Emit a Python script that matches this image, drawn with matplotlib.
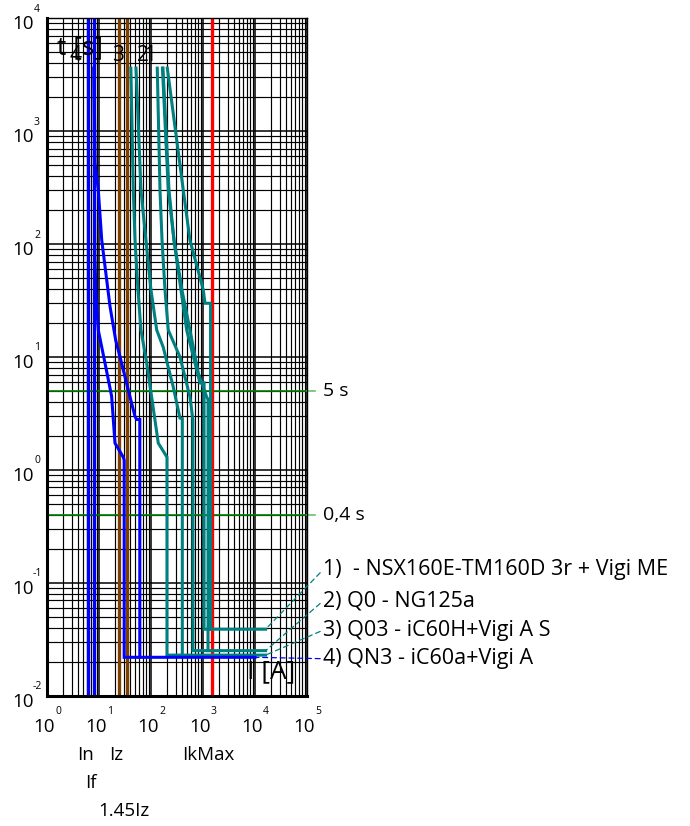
import matplotlib.pyplot as plt
import numpy as np
from matplotlib.ticker import LogLocator

plt.rcParams['font.family'] = ['Open Sans', 'DejaVu Sans']

# %% data

# marker currents [A]
marker_names = ['In', 'If', 'Iz', '1.45Iz', 'IkMax']
marker_vals = [6.2, 8.0, 24.0, 34.8, 1470.0]
marker_rows = [0, 1, 0, 2, 0]
marker_cols = ['#0000ff', '#0000ff', '#7f3f00', '#7f3f00', '#ff0000']

# time markers [s]
t_marks = [5.0, 0.4]
t_labels = ['5 s', '0,4 s']

# curve 4 - QN3 iC60a (blue)
c4_min_x = [8.0, 8.3, 8.8, 9.7, 13.0, 17.5, 20.3, 29.3, 30.5, 30.5]
c4_min_y = [3600, 80, 34, 17.3, 8.9, 4.5, 1.73, 1.30, 1.22, 0.022]
c4_max_x = [8.0, 8.4, 9.7, 11.3, 16.3, 21.0, 25.3, 36.6, 49.3, 53, 61, 61]
c4_max_y = [3600, 520, 300, 108, 28, 14, 10.1, 5.1, 2.97, 2.8, 2.8, 0.022]
c4_bottom = 0.022
c4_end = 10000

# curve 3 - iC60H (teal)
c3_min_x = [41, 45.7, 49.3, 56.2, 64.2, 82.7, 103, 138, 203, 203]
c3_min_y = [3600, 300, 108, 39.2, 17.3, 8.85, 4.43, 1.73, 1.30, 0.023]
c3_max_x = [51.5, 64.2, 80, 100, 129, 172, 268, 361, 400, 400]
c3_max_y = [3600, 300, 108, 39.2, 17.3, 12.2, 5.43, 2.88, 2.85, 0.023]
c3_bottom = 0.023
c3_end = 16000

# curve 2 - NG125a (teal)
c2_min_x = [132, 149, 163, 186, 215, 361, 562, 640, 640]
c2_min_y = [3600, 300, 108, 39.2, 17.3, 10.0, 4.43, 2.77, 0.0252]
c2_max_x = [166, 215, 277, 394, 562, 812, 1178, 1250, 1250]
c2_max_y = [3600, 300, 108, 39.2, 17.3, 7.2, 4.43, 4.2, 0.0252]
c2_bottom = 0.0252
c2_end = 16000

# curve 1 - NSX160E-TM160D (teal)
c1_min_x = [170, 222, 277, 377, 486, 702, 876, 1050, 1050]
c1_min_y = [3600, 300, 108, 39.2, 17.3, 8.85, 5.9, 5.9, 0.039]
c1_max_x = [206, 418, 562, 1014, 1092, 1400, 1400]
c1_max_y = [3600, 300, 108, 39.2, 29.9, 29.9, 0.039]
c1_bottom = 0.039
c1_end = 16000

legend_txt = ['1)  - NSX160E-TM160D 3r + Vigi ME',
              '2) Q0 - NG125a',
              '3) Q03 - iC60H+Vigi A S',
              '4) QN3 - iC60a+Vigi A']
legend_y = [0.186, 0.140, 0.097, 0.055]

TEAL = '#008080'
BLUE = '#0000ff'

# %% figure

fig = plt.figure(figsize=(6.9, 8.26), dpi=100)
ax = fig.add_axes([0.0681, 0.1574, 0.3768, 0.8208])
ax.set_xscale('log')
ax.set_yscale('log')
ax.set_xlim(1, 1e5)
ax.set_ylim(1e-2, 1e4)

for a in (ax.xaxis, ax.yaxis):
    a.set_major_locator(LogLocator(base=10, numticks=20))
    a.set_minor_locator(LogLocator(base=10, subs=np.arange(2, 10), numticks=20))
ax.grid(which='major', color='black', lw=1.1)
ax.grid(which='minor', color='black', lw=0.85)
ax.tick_params(which='both', length=0, labelbottom=False, labelleft=False)

for s in ['left', 'bottom']:
    ax.spines[s].set_linewidth(2.2)
for s in ['top', 'right']:
    ax.spines[s].set_linewidth(1.0)

# time markers
for t, lab in zip(t_marks, t_labels):
    ax.axhline(t, color='#008000', lw=1.2)
    ax.plot([1.0, 1.031], [t, t], color='#6cbf6c', lw=1.2,
            transform=ax.get_yaxis_transform(), clip_on=False)
    ax.text(1.0615, t, lab, transform=ax.get_yaxis_transform(),
            va='center', ha='left', fontsize=14)

# current markers
for v, c in zip(marker_vals, marker_cols):
    ax.axvline(v, color=c, lw=2.4)

# curves
curves = [
    (c1_min_x, c1_min_y, c1_max_x, c1_max_y, c1_bottom, c1_end, TEAL),
    (c2_min_x, c2_min_y, c2_max_x, c2_max_y, c2_bottom, c2_end, TEAL),
    (c3_min_x, c3_min_y, c3_max_x, c3_max_y, c3_bottom, c3_end, TEAL),
    (c4_min_x, c4_min_y, c4_max_x, c4_max_y, c4_bottom, c4_end, BLUE),
]
for mnx, mny, mxx, mxy, bot, end, col in curves:
    ax.plot(mnx + [end], mny + [bot], color=col, lw=2.2, solid_joinstyle='miter')
    ax.plot(mxx, mxy, color=col, lw=2.2, solid_joinstyle='miter')

# leaders + legend text
for (mnx, mny, mxx, mxy, bot, end, col), txt, ly in zip(curves, legend_txt, legend_y):
    ax.annotate(txt, xy=(end, bot), xytext=(1.0615, ly), textcoords='axes fraction',
                va='center', ha='left', fontsize=15.5,
                arrowprops=dict(arrowstyle='-', ls=(0, (4, 3)), color=col, lw=0.9,
                                shrinkA=0, shrinkB=0, relpos=(0, 0.5)))

# curve numbers at top
for num, xf in zip(['4', '3', '2', '1'], [0.1115, 0.273, 0.368, 0.396]):
    ax.text(xf, 0.945, num, transform=ax.transAxes, ha='center', va='center',
            fontsize=15)

ax.text(0.0385, 0.956, 't [s]', transform=ax.transAxes, va='center', fontsize=19)
ax.text(0.769, 0.0354, 'I [A]', transform=ax.transAxes, va='center', fontsize=19)

# tick labels as 10 + small exponent
for e in range(0, 6):
    ax.annotate('10', xy=(10.0 ** e, 0), xycoords=('data', 'axes fraction'),
                xytext=(-3, -31), textcoords='offset pixels',
                ha='center', va='center', fontsize=13.5)
    ax.annotate(str(e), xy=(10.0 ** e, 0), xycoords=('data', 'axes fraction'),
                xytext=(11, -16), textcoords='offset pixels',
                ha='center', va='center', fontsize=7.5)
for e in range(-2, 5):
    ax.annotate('10', xy=(0, 10.0 ** e), xycoords=('axes fraction', 'data'),
                xytext=(-24, -6), textcoords='offset pixels',
                ha='center', va='center', fontsize=13.5)
    ax.annotate(str(e), xy=(0, 10.0 ** e), xycoords=('axes fraction', 'data'),
                xytext=(-10, 9), textcoords='offset pixels',
                ha='center', va='center', fontsize=7.5)

# marker names under x axis
for name, v, r in zip(marker_names, marker_vals, marker_rows):
    ax.annotate(name, xy=(v, 0), xycoords=('data', 'axes fraction'),
                xytext=(-3, -59 - 28 * r), textcoords='offset pixels',
                ha='center', va='center', fontsize=13.5)

fig.savefig('out.png', dpi=100)
